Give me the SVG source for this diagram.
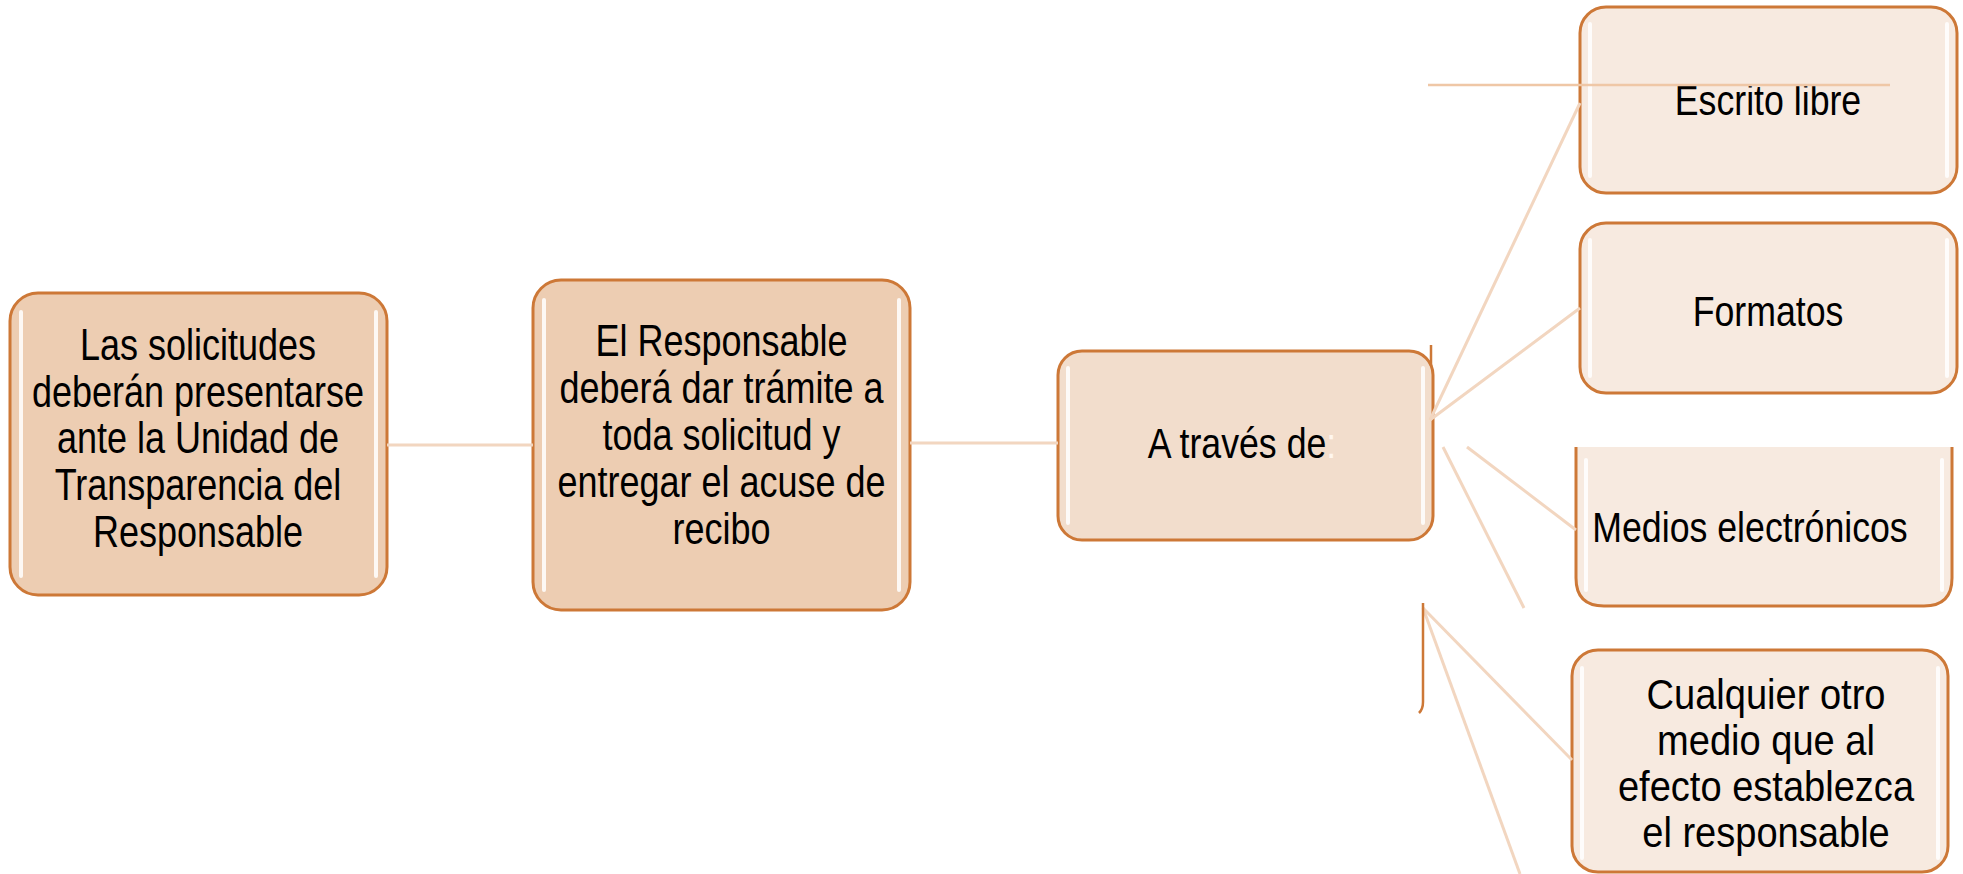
<svg xmlns="http://www.w3.org/2000/svg" width="1963" height="874" viewBox="0 0 1963 874">
<style>
.box{stroke:#CD7837;stroke-width:3}
.b1{fill:#EDCDB2}
.b2{fill:#F2DDCC}
.b3{fill:#F7EAE0}
.gl{stroke:#FFFFFF;stroke-width:4;stroke-linecap:round;opacity:0.85;fill:none}
.ln{stroke:#F2D6C0;stroke-width:3;fill:none}
.hl{stroke:#EFC7A6;stroke-width:2.5;fill:none}
.t{font-family:"Liberation Sans",Arial,sans-serif;font-size:42px;fill:#000000;text-anchor:middle}
.tb{font-size:45px}
.tc{font-size:43px}
</style>
<rect width="1963" height="874" fill="#FFFFFF"/>
<g id="n1">
<rect class="box b1" x="10" y="293" width="377" height="302" rx="28"/>
<path class="gl" d="M21,312 V576 M376,312 V576"/>
<text class="t tb" transform="translate(198,0) scale(0.8,1)"><tspan x="0" y="360">Las solicitudes</tspan><tspan x="0" y="407">deberán presentarse</tspan><tspan x="0" y="453">ante la Unidad de</tspan><tspan x="0" y="500">Transparencia del</tspan><tspan x="0" y="547">Responsable</tspan></text>
</g>
<g id="n2">
<rect class="box b1" x="533" y="280" width="377" height="330" rx="28"/>
<path class="gl" d="M544,300 V590 M899,300 V590"/>
<text class="t tb" transform="translate(721.5,0) scale(0.8,1)"><tspan x="0" y="356">El Responsable</tspan><tspan x="0" y="403">deberá dar trámite a</tspan><tspan x="0" y="450">toda solicitud y</tspan><tspan x="0" y="497">entregar el acuse de</tspan><tspan x="0" y="544">recibo</tspan></text>
</g>
<g id="n3">
<rect class="box b2" x="1058" y="351" width="375" height="189" rx="24"/>
<path class="gl" d="M1068,368 V523 M1423,368 V523"/>
<path d="M1431,345 V366" stroke="#CD7837" stroke-width="2.5" fill="none"/>
<text class="t" transform="translate(1242,0) scale(0.85,1)" x="0" y="458">A través de<tspan fill="#FFF6EE">:</tspan></text>
</g>
<g id="n4">
<rect class="box b3" x="1580" y="7" width="377" height="186" rx="26"/>
<path class="gl" d="M1590,24 V176 M1947,24 V176"/>
<text class="t" transform="translate(1768,0) scale(0.85,1)" x="0" y="115">Escrito libre</text>
</g>
<g id="n5">
<rect class="box b3" x="1580" y="223" width="377" height="170" rx="26"/>
<path class="gl" d="M1590,240 V376 M1947,240 V376"/>
<text class="t" transform="translate(1768,0) scale(0.85,1)" x="0" y="326">Formatos</text>
</g>
<g id="n6">
<path class="b3" d="M1576,447 V578 Q1576,606 1604,606 H1924 Q1952,606 1952,578 V447 Z"/>
<path class="box" fill="none" d="M1576,447 V578 Q1576,606 1604,606 H1924 Q1952,606 1952,578 V447"/>
<path class="gl" d="M1586,460 V590 M1942,460 V590"/>
<text class="t" transform="translate(1750,0) scale(0.85,1)" x="0" y="542">Medios electrónicos</text>
</g>
<g id="n7">
<rect class="box b3" x="1572" y="650" width="376" height="222" rx="26"/>
<path class="gl" d="M1582,668 V858 M1938,668 V858"/>
<text class="t tc" transform="translate(1766,0) scale(0.885,1)"><tspan x="0" y="709">Cualquier otro</tspan><tspan x="0" y="755">medio que al</tspan><tspan x="0" y="801">efecto establezca</tspan><tspan x="0" y="847">el responsable</tspan></text>
</g>
<g id="connectors">
<line class="ln" x1="387" y1="445" x2="533" y2="445"/>
<line class="ln" x1="910" y1="443" x2="1058" y2="443"/>
<line class="ln" x1="1430" y1="420" x2="1580" y2="103"/>
<line class="ln" x1="1430" y1="420" x2="1580" y2="308"/>
<line class="ln" x1="1443" y1="447" x2="1524" y2="608"/>
<line class="ln" x1="1467" y1="447" x2="1576" y2="530"/>
<line class="ln" x1="1423" y1="608" x2="1572" y2="760"/>
<line class="ln" x1="1423" y1="608" x2="1520" y2="874"/>
<line class="hl" x1="1428" y1="85" x2="1890" y2="85"/>
</g>
<path d="M1423,603 V702 Q1423,709 1419,713" stroke="#CD7837" stroke-width="2.5" fill="none"/>
</svg>
